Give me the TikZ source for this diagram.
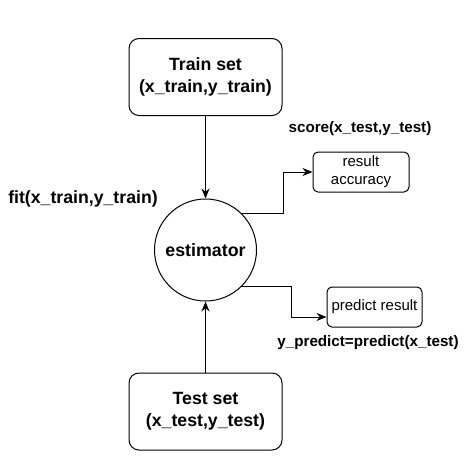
\documentclass[tikz,border=0pt]{standalone}
\usepackage{fontspec}
\setmainfont{Liberation Sans}
\usetikzlibrary{arrows.meta}
\usetikzlibrary{positioning}

\tikzset{
  bigbox/.style={draw,line width=1pt,rounded corners=10pt,minimum width=153pt,minimum height=77pt,align=center,font=\fontsize{17.7}{22}\selectfont\bfseries},
  smallbox/.style={draw,line width=1pt,rounded corners=5pt,minimum height=40pt,align=center,font=\fontsize{15}{18}\selectfont},
  lbl/.style={font=\fontsize{15.2}{18}\selectfont\bfseries},
}

\begin{document}
\begin{tikzpicture}[line cap=round,line join=round,>={Stealth[length=10pt,width=8pt]},x=1pt,y=-1pt]
\useasboundingbox (0,0) rectangle (466,466);
\node [bigbox] (train) at (205.5,77) {Train set\\(x\_train,y\_train)};
\node [draw,circle,line width=1pt,minimum size=102pt,font=\fontsize{17.8}{22}\selectfont\bfseries] (est) at (205.5,250) {estimator};
\node [bigbox] (test) at (205.5,411.5) {Test set\\(x\_test,y\_test)};
\node [smallbox,minimum width=96pt] (acc) at (361,172) {result\\accuracy};
\node [smallbox,minimum width=95pt] (pred) at (374.5,307) {predict result};
\node [font=\fontsize{17.7}{22}\selectfont\bfseries] (fit) at (83,199) {fit(x\_train,y\_train)};
\node [lbl] (score) at (360,129) {score(x\_test,y\_test)};
\node [lbl] (ypred) at (368,343) {y\_predict=predict(x\_test)};
\draw [->,line width=1pt] (train) -- (est);
\draw [->,line width=1pt] (test) -- (est);
\draw [->,line width=1pt] (est.45) -- ++(42,0) |- (acc.west);
\draw [->,line width=1pt] (est.-45) -- ++(50,0) |- ([yshift=-10pt]pred.west);
\end{tikzpicture}
\end{document}
